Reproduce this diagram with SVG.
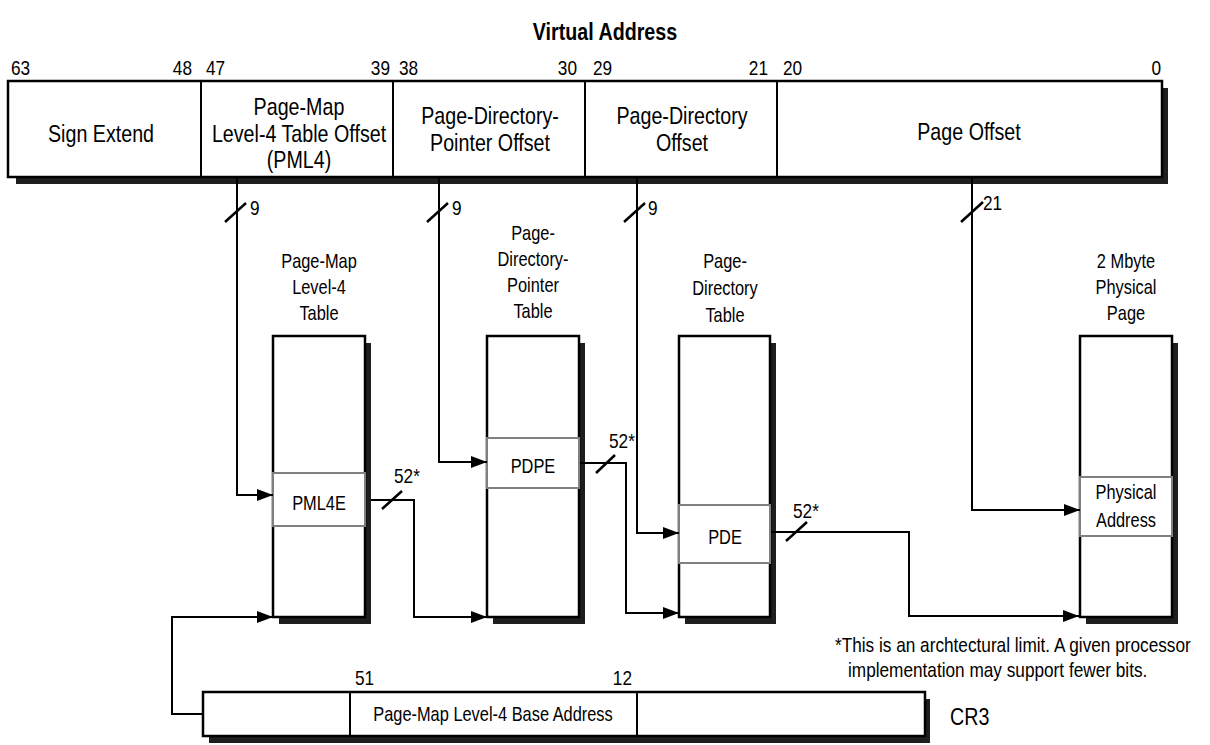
<svg xmlns="http://www.w3.org/2000/svg" width="1210" height="745" viewBox="0 0 1210 745">
<style>
.t{font-family:"Liberation Sans Narrow","Liberation Sans",Arial,sans-serif;fill:#000}
.b{font-size:24px}
.s{font-size:20px}
.n{font-size:21px}
.m{text-anchor:middle}
.e{text-anchor:end}
.reg{fill:#fff;stroke:#000;stroke-width:2.5}
.sh{fill:#1e1e1e}
.ent{fill:#fff;stroke:#808080;stroke-width:2}
.c{fill:none;stroke:#000;stroke-width:2}
.tk{stroke:#000;stroke-width:2.5}
</style>
<defs>
<marker id="ah" markerUnits="userSpaceOnUse" markerWidth="16" markerHeight="12" refX="16" refY="6" orient="auto">
<path d="M0,0 L16,6 L0,12 z" fill="#000"/>
</marker>
</defs>

<text class="t m" transform="translate(605,40) scale(.82,1)" font-size="24" font-weight="bold">Virtual Address</text>

<g id="virtual-address">
<rect class="sh" x="16" y="88" width="1152" height="96"/>
<rect class="reg" x="8" y="81" width="1154" height="96"/>
<line class="c" x1="201" y1="81" x2="201" y2="177" stroke-width="2.5"/>
<line class="c" x1="393" y1="81" x2="393" y2="177" stroke-width="2.5"/>
<line class="c" x1="585" y1="81" x2="585" y2="177" stroke-width="2.5"/>
<line class="c" x1="777" y1="81" x2="777" y2="177" stroke-width="2.5"/>
<g class="t n">
<text transform="translate(11,75) scale(.82,1)">63</text><text class="e" transform="translate(192,75) scale(.82,1)">48</text>
<text transform="translate(206,75) scale(.82,1)">47</text><text class="e" transform="translate(390,75) scale(.82,1)">39</text>
<text transform="translate(399,75) scale(.82,1)">38</text><text class="e" transform="translate(577,75) scale(.82,1)">30</text>
<text transform="translate(593,75) scale(.82,1)">29</text><text class="e" transform="translate(768,75) scale(.82,1)">21</text>
<text transform="translate(783,75) scale(.82,1)">20</text><text class="e" transform="translate(1161,75) scale(.82,1)">0</text>
</g>
<g class="t b m">
<text transform="translate(101,142) scale(.82,1)">Sign Extend</text>
<text transform="translate(299,115) scale(.82,1)">Page-Map</text>
<text transform="translate(299,142) scale(.82,1)">Level-4 Table Offset</text>
<text transform="translate(299,168) scale(.82,1)">(PML4)</text>
<text transform="translate(490,124) scale(.82,1)">Page-Directory-</text>
<text transform="translate(490,151) scale(.82,1)">Pointer Offset</text>
<text transform="translate(682,124) scale(.82,1)">Page-Directory</text>
<text transform="translate(682,151) scale(.82,1)">Offset</text>
<text transform="translate(969,140) scale(.82,1)">Page Offset</text>
</g>
</g>

<g id="pml4-table">
<g class="t s m">
<text transform="translate(319,268) scale(.82,1)">Page-Map</text>
<text transform="translate(319,294) scale(.82,1)">Level-4</text>
<text transform="translate(319,320) scale(.82,1)">Table</text>
</g>
<rect class="sh" x="279" y="343" width="92" height="281"/>
<rect class="reg" x="273" y="336" width="92" height="281" stroke-width="2"/>
<rect class="ent" x="273" y="473" width="92" height="53"/>
<text class="t s m" transform="translate(319,510) scale(.82,1)">PML4E</text>
</g>

<g id="pdp-table">
<g class="t s m">
<text transform="translate(533,240) scale(.82,1)">Page-</text>
<text transform="translate(533,266) scale(.82,1)">Directory-</text>
<text transform="translate(533,292) scale(.82,1)">Pointer</text>
<text transform="translate(533,318) scale(.82,1)">Table</text>
</g>
<rect class="sh" x="493" y="343" width="92" height="281"/>
<rect class="reg" x="487" y="336" width="92" height="281" stroke-width="2"/>
<rect class="ent" x="487" y="438" width="92" height="50"/>
<text class="t s m" transform="translate(533,473) scale(.82,1)">PDPE</text>
</g>

<g id="pd-table">
<g class="t s m">
<text transform="translate(725,268) scale(.82,1)">Page-</text>
<text transform="translate(725,295) scale(.82,1)">Directory</text>
<text transform="translate(725,322) scale(.82,1)">Table</text>
</g>
<rect class="sh" x="685" y="343" width="91" height="281"/>
<rect class="reg" x="679" y="336" width="91" height="281" stroke-width="2"/>
<rect class="ent" x="679" y="505" width="91" height="58"/>
<text class="t s m" transform="translate(725,544) scale(.82,1)">PDE</text>
</g>

<g id="physical-page">
<g class="t s m">
<text transform="translate(1126,268) scale(.82,1)">2 Mbyte</text>
<text transform="translate(1126,294) scale(.82,1)">Physical</text>
<text transform="translate(1126,320) scale(.82,1)">Page</text>
</g>
<rect class="sh" x="1086" y="343" width="92" height="281"/>
<rect class="reg" x="1080" y="336" width="92" height="281" stroke-width="2"/>
<rect class="ent" x="1080" y="477" width="92" height="59"/>
<text class="t s m" transform="translate(1126,499) scale(.82,1)">Physical</text>
<text class="t s m" transform="translate(1126,527) scale(.82,1)">Address</text>
</g>

<g id="cr3">
<rect class="sh" x="209" y="699" width="721" height="44"/>
<rect class="reg" x="203" y="692" width="722" height="44"/>
<line class="c" x1="350" y1="692" x2="350" y2="736" stroke-width="2.5"/>
<line class="c" x1="637" y1="692" x2="637" y2="736" stroke-width="2.5"/>
<text class="t n" transform="translate(355,685) scale(.82,1)">51</text>
<text class="t n e" transform="translate(632,685) scale(.82,1)">12</text>
<text class="t s m" transform="translate(493,721) scale(.82,1)">Page-Map Level-4 Base Address</text>
<text class="t" transform="translate(950,725) scale(.82,1)" font-size="24">CR3</text>
</g>

<g id="connectors">
<path class="c" d="M237,177 V495 H273" marker-end="url(#ah)"/>
<path class="c" d="M439,177 V462 H487" marker-end="url(#ah)"/>
<path class="c" d="M637,177 V533 H679" marker-end="url(#ah)"/>
<path class="c" d="M972,177 V510 H1080" marker-end="url(#ah)"/>
<path class="c" d="M371,500 H414 V617 H487" marker-end="url(#ah)"/>
<path class="c" d="M580,463 H626 V613 H679" marker-end="url(#ah)"/>
<path class="c" d="M771,532 H909 V616 H1079" marker-end="url(#ah)"/>
<path class="c" d="M203,714 H172 V617 H273" marker-end="url(#ah)"/>
<line class="tk" x1="225" y1="222" x2="246" y2="203"/>
<line class="tk" x1="427" y1="222" x2="448" y2="203"/>
<line class="tk" x1="624" y1="222" x2="645" y2="203"/>
<line class="tk" x1="961" y1="222" x2="983" y2="202"/>
<line class="tk" x1="382" y1="509" x2="402" y2="491"/>
<line class="tk" x1="596" y1="473" x2="615" y2="455"/>
<line class="tk" x1="786" y1="541" x2="807" y2="522"/>
<g class="t n">
<text transform="translate(250,215) scale(.82,1)">9</text>
<text transform="translate(452,215) scale(.82,1)">9</text>
<text transform="translate(648,215) scale(.82,1)">9</text>
<text transform="translate(983,210) scale(.82,1)">21</text>
<text transform="translate(394,483) scale(.82,1)">52*</text>
<text transform="translate(609,448) scale(.82,1)">52*</text>
<text transform="translate(793,518) scale(.82,1)">52*</text>
</g>
</g>

<g id="footnote" class="t" font-size="21">
<text transform="translate(835,652) scale(.82,1)">*This is an archtectural limit. A given processor</text>
<text transform="translate(848,677) scale(.82,1)">implementation may support fewer bits.</text>
</g>
</svg>
